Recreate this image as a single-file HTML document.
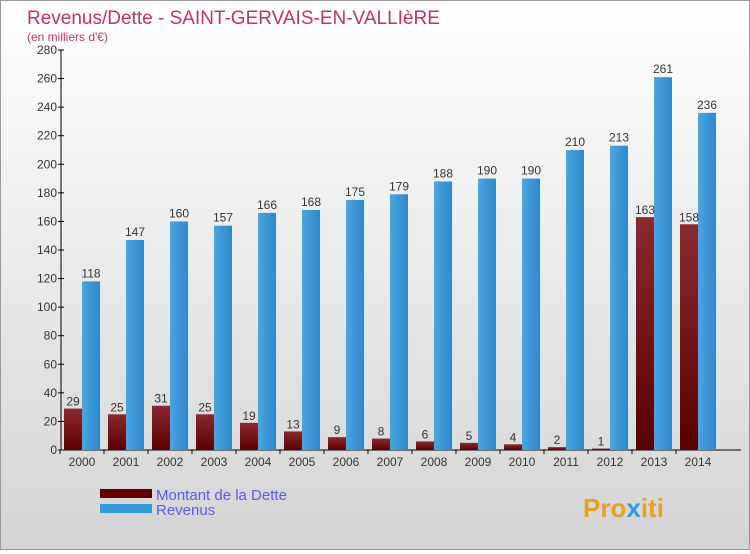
<!DOCTYPE html>
<html><head><meta charset="utf-8"><style>
body{margin:0}
#c{width:748px;height:548px;border:1px solid #999;background:linear-gradient(#fff,#d4d4d4);position:relative;font-family:"Liberation Sans",sans-serif}
</style></head><body>
<div id="c">
<svg id="s" width="748" height="548" xmlns="http://www.w3.org/2000/svg">
<defs>
<linearGradient id="gd" x1="0" y1="0" x2="0" y2="1"><stop offset="0" stop-color="#8a2a30"/><stop offset="1" stop-color="#5a0000"/></linearGradient>
<linearGradient id="gr" x1="0" y1="0" x2="1" y2="0"><stop offset="0" stop-color="#4aa5e2"/><stop offset="1" stop-color="#2f88c8"/></linearGradient>
</defs>
<text x="26" y="23" font-size="19" fill="#c0306a">Revenus/Dette - SAINT-GERVAIS-EN-VALLIèRE</text>
<text x="26" y="40" font-size="12" fill="#c0306a">(en milliers d'€)</text>
<g id="g"></g>
<rect x="99" y="488" width="52" height="9" fill="#600000"/>
<text x="155" y="499" font-size="15" fill="#5a5ae8">Montant de la Dette</text>
<rect x="99" y="503" width="52" height="9" fill="#3399dd"/>
<text x="155" y="514" font-size="15" fill="#5a5ae8">Revenus</text>
<text x="582" y="516" font-size="26" font-weight="bold" fill="#e8a020">Pro<tspan fill="#3399dd">x</tspan>iti</text>
</svg>
</div>
<script>
const years=["2000","2001","2002","2003","2004","2005","2006","2007","2008","2009","2010","2011","2012","2013","2014"];
const dette=[29,25,31,25,19,13,9,8,6,5,4,2,1,163,158];
const revenus=[118,147,160,157,166,168,175,179,188,190,190,210,213,261,236];
const yTicks=[0,20,40,60,80,100,120,140,160,180,200,220,240,260,280];
const g=document.getElementById('g');const NS="http://www.w3.org/2000/svg";
const y0=449,yTop=49,yMax=280,x0=60,step=44,c0=81;
const Y=v=>y0-(v/yMax)*(y0-yTop);
const X=i=>c0+i*step;
function mk(t,a){const e=document.createElementNS(NS,t);for(const k in a)e.setAttribute(k,a[k]);g.appendChild(e);return e;}
let e=mk('line',{x1:x0,y1:yTop,x2:x0,y2:y0,stroke:'#000'});


e=mk('line',{x1:x0,y1:y0,x2:740,y2:y0,stroke:'#000'});


yTicks.forEach(v=>{const l=mk('line',{x1:x0-3,y1:Y(v),x2:x0+3,y2:Y(v),stroke:'#000'});


const t=mk('text',{x:x0-4,y:Y(v)+4,'font-size':12,'text-anchor':'end',fill:'#333'});t.textContent=v;

});
years.forEach((yr,i)=>{const cx=X(i);
const tk=mk('line',{x1:cx-22,y1:y0,x2:cx-22,y2:y0+4,stroke:'#000'});


const d=mk('rect',{x:cx-18,y:Y(dette[i]),width:18,height:y0-Y(dette[i]),fill:'url(#gd)'});


const r=mk('rect',{x:cx,y:Y(revenus[i]),width:18,height:y0-Y(revenus[i]),fill:'url(#gr)'});


let t=mk('text',{x:cx-9,y:Y(dette[i])-3,'font-size':12,'text-anchor':'middle',fill:'#333'});t.textContent=dette[i];


t=mk('text',{x:cx+9,y:Y(revenus[i])-4,'font-size':12,'text-anchor':'middle',fill:'#333'});t.textContent=revenus[i];


t=mk('text',{x:cx,y:y0+16,'font-size':12,'text-anchor':'middle',fill:'#333'});t.textContent=yr;

});
</script>
</body></html>
